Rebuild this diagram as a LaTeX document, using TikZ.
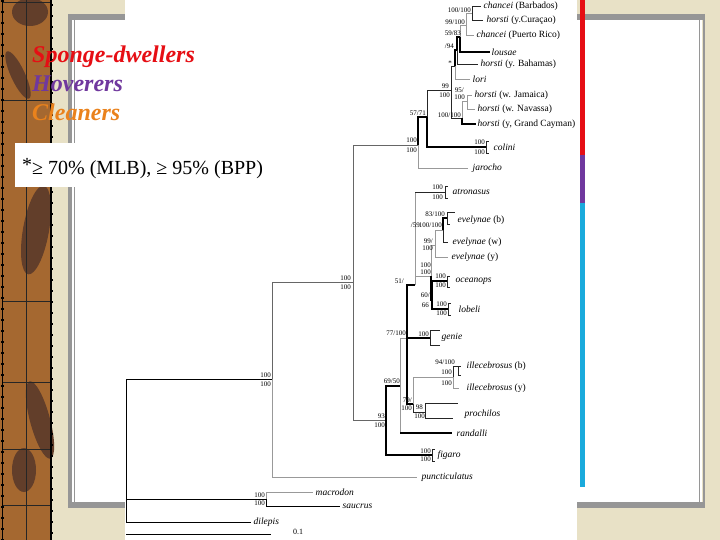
\documentclass[tikz,border=0pt]{standalone}
\usepackage{fontspec}
\setmainfont{Liberation Serif}
\usetikzlibrary{positioning}
\definecolor{bgbeige}{RGB}{232,225,198}
\definecolor{barkbrown}{RGB}{165,104,48}
\definecolor{barkdark}{RGB}{98,62,42}
\definecolor{framegray}{RGB}{150,150,150}
\definecolor{sdred}{RGB}{230,14,20}
\definecolor{hovpurple}{RGB}{112,56,158}
\definecolor{clorange}{RGB}{234,130,28}
\definecolor{clblue}{RGB}{26,170,220}
\tikzset{
  br/.style={line width=0.7pt, black!85},
  grbr/.style={line width=0.7pt, black!40},
  thbr/.style={line width=1.4pt, black},
  taxon/.style={anchor=west, inner sep=0.5pt, font=\fontsize{9.5}{10}\selectfont},
  supp/.style={anchor=east, inner sep=0pt, font=\fontsize{7}{7}\selectfont},
  legendtext/.style={anchor=base west, inner sep=0pt, font=\fontsize{24}{26}\selectfont\bfseries\itshape}
}
\begin{document}
\begin{tikzpicture}[x=1pt,y=-1pt]
\useasboundingbox (0,0) rectangle (720,540);
% slide background
\fill[bgbeige] (0,0) rectangle (720,540);
\fill[barkbrown] (0,0) rectangle (51,540);
\fill[barkdark] (30,12) ellipse (18 and 14);
\fill[barkdark, rotate around={25:(18,75)}] (18,75) ellipse (7 and 26);
\fill[barkdark, rotate around={-10:(36,230)}] (36,230) ellipse (13 and 45);
\fill[barkdark, rotate around={15:(40,420)}] (40,420) ellipse (10 and 40);
\fill[barkdark] (24,470) ellipse (12 and 22);
\draw[black!85, line width=0.6pt] (26,0) -- (26,540);
\foreach \gy in {2,100,301,382,449,505}
  \draw[black!85, line width=0.6pt] (3,\gy) -- (51,\gy);
\draw[black, line width=2pt] (51,0) -- (51,540);
\draw[black, line width=1pt] (2.5,0) -- (2.5,540);
\draw[black, line width=3pt, dash pattern=on 2pt off 9pt] (2,0) -- (2,540);
\draw[black, line width=3pt, dash pattern=on 2pt off 9pt] (51,4) -- (51,540);
% white panel with frame
\fill[white] (72,20) rectangle (702,502);
\fill[framegray] (68,14) rectangle (704,20);
\fill[framegray] (68,14) rectangle (72,508);
\fill[framegray] (68,502) rectangle (704,508);
\draw[framegray, line width=0.8pt] (74.5,20) -- (74.5,502);
\draw[framegray, line width=0.8pt] (699.5,20) -- (699.5,502);
\draw[framegray, line width=1.6pt] (704,14) -- (704,508);
% tree picture
\fill[white] (125,0) rectangle (577,540);
% colour bar
\fill[sdred] (580,0) rectangle (585,155);
\fill[hovpurple] (580,155) rectangle (585,203);
\fill[clblue] (580,203) rectangle (585,487);

% legend
\node[legendtext, text=sdred] (sponge) at (32,63) {Sponge-dwellers};
\node[legendtext, text=hovpurple] (hover) at (32,92) {Hoverers};
\node[legendtext, text=clorange] (clean) at (32,121) {Cleaners};
\node[fill=white, anchor=north west, inner sep=0pt, minimum width=255pt, minimum height=44pt] (notebox) at (15,143) {};
\node[anchor=base west, inner sep=0pt, font=\fontsize{20}{21}\selectfont] (note) at (22,175) {\raisebox{3pt}{*}≥ 70\% (MLB), ≥ 95\% (BPP)};

% internal nodes
\coordinate (root) at (126,450);
\coordinate (n272) at (272,379);
\coordinate (nc) at (353,282);
\coordinate (nsd) at (418,145);
\coordinate (n57) at (427,117);
\coordinate (n99) at (451,90);
\coordinate (n5) at (455,66);
\coordinate (n4) at (457,50);
\coordinate (n3) at (460,37);
\coordinate (n2) at (466,25);
\coordinate (n1) at (472,13);
\coordinate (nj) at (462,118);
\coordinate (nj1) at (467,101);
\coordinate (ncol) at (486,147);
\coordinate (n93) at (386,420);
\coordinate (n69) at (400,386);
\coordinate (n77) at (407,338);
\coordinate (n59) at (415,285);
\coordinate (natr) at (445,192);
\coordinate (n100a) at (431,276);
\coordinate (ne2) at (435,245);
\coordinate (ne1) at (443,230);
\coordinate (neb) at (447,218);
\coordinate (n60) at (432,300);
\coordinate (noce) at (447,281);
\coordinate (nlob) at (448,309);
\coordinate (ngen) at (430,338);
\coordinate (n79) at (413,404);
\coordinate (nill) at (453,377);
\coordinate (nillb) at (458,366);
\coordinate (n98) at (425,412);
\coordinate (nfig) at (432,455);
\coordinate (nmac) at (266,499);

% tips
\coordinate (tbarb) at (481,6);
\coordinate (tcur) at (483,20);
\coordinate (tcpr) at (474,35);
\coordinate (tlou) at (490,52);
\coordinate (tbah) at (478,64);
\coordinate (tlori) at (470,79);
\coordinate (tjam) at (472,95);
\coordinate (tnav) at (475,109);
\coordinate (tcay) at (476,124);
\coordinate (tcol1) at (489,141);
\coordinate (tcol2) at (489,153);
\coordinate (tjar) at (468,168);
\coordinate (tatr1) at (448,186);
\coordinate (tatr2) at (448,198);
\coordinate (tevb1) at (455,212);
\coordinate (tevb2) at (450,224);
\coordinate (tevw) at (448,242);
\coordinate (tevy) at (448,257);
\coordinate (toce1) at (450,276);
\coordinate (toce2) at (450,287);
\coordinate (tlob1) at (451,303);
\coordinate (tlob2) at (451,315);
\coordinate (tgen1) at (440,330);
\coordinate (tgen2) at (440,345);
\coordinate (tillb1) at (461,366);
\coordinate (tillb2) at (461,375);
\coordinate (tilly) at (459,388);
\coordinate (tpro1) at (458,403);
\coordinate (tpro2) at (453,418);
\coordinate (tran) at (452,433);
\coordinate (tfig1) at (435,449);
\coordinate (tfig2) at (435,461);
\coordinate (tpun) at (417,477);
\coordinate (tmac) at (313,492);
\coordinate (tsau) at (340,506);
\coordinate (tdil) at (251,522);

% branches
\draw[br, black] (root) |- (n272);
\draw[br, black] (root) |- (nmac);
\draw[br, black] (root) |- (tdil);
\draw[br, black!60] (n272) |- (nc);
\draw[grbr] (n272) |- (tpun);
\draw[br, black!60] (nc) |- (nsd);
\draw[br, black!60] (nc) |- (n93);
\draw[thbr] (nsd) |- (n57);
\draw[grbr] (nsd) |- (tjar);
\draw[br] (n57) |- (n99);
\draw[thbr] (n57) |- (ncol);
\draw[br] (ncol) |- (tcol1);
\draw[br] (ncol) |- (tcol2);
\draw[br] (n99) |- (n5);
\draw[br] (n99) |- (nj);
\draw[thbr] (n5) |- (n4);
\draw[grbr] (n5) |- (tlori);
\draw[thbr] (n4) |- (n3);
\draw[br] (n4) |- (tbah);
\draw[grbr] (n3) |- (n2);
\draw[thbr] (n3) |- (tlou);
\draw[grbr] (n2) |- (n1);
\draw[grbr] (n2) |- (tcpr);
\draw[br] (n1) |- (tbarb);
\draw[br] (n1) |- (tcur);
\draw[grbr] (nj) |- (nj1);
\draw[thbr] (nj) |- (tcay);
\draw[grbr] (nj1) |- (tjam);
\draw[grbr] (nj1) |- (tnav);
\draw[thbr] (n93) |- (n69);
\draw[thbr] (n93) |- (nfig);
\draw[br] (nfig) |- (tfig1);
\draw[br] (nfig) |- (tfig2);
\draw[grbr] (n69) |- (n77);
\draw[grbr] (n69) |- (tran);
\draw[thbr] (n69 |- tran) -- (tran);
\draw[thbr] (n77) |- (n59);
\draw[thbr] (n77) |- (n79);
\draw[thbr] (n77) -- (ngen);
\draw[br] (ngen) |- (tgen1);
\draw[br] (ngen) |- (tgen2);
\draw[grbr] (n59) |- (natr);
\draw[br] (n59 |- natr) -- (natr);
\draw[grbr] (n59) |- (n100a);
\draw[br] (natr) |- (tatr1);
\draw[br] (natr) |- (tatr2);
\draw[grbr] (n100a) |- (ne2);
\draw[thbr] (n100a) |- (n60);
\draw[grbr] (ne2) |- (ne1);
\draw[grbr] (ne2) |- (tevy);
\draw[thbr] (ne1) |- (neb);
\draw[br] (ne1) |- (tevw);
\draw[br] (neb) |- (tevb1);
\draw[br] (neb) |- (tevb2);
\draw[thbr] (n60) |- (noce);
\draw[thbr] (n60) |- (nlob);
\draw[br] (noce) |- (toce1);
\draw[br] (noce) |- (toce2);
\draw[br] (nlob) |- (tlob1);
\draw[br] (nlob) |- (tlob2);
\draw[grbr] (n79) |- (nill);
\draw[br] (n79) |- (n98);
\draw[br] (nill) |- (nillb);
\draw[grbr] (nill) |- (tilly);
\draw[br] (nillb) |- (tillb1);
\draw[br] (nillb) |- (tillb2);
\draw[br] (n98) |- (tpro1);
\draw[br] (n98) |- (tpro2);
\draw[grbr] (nmac) |- (tmac);
\draw[br, black] (nmac) |- (tsau);

% taxa
\node[taxon, right=2pt of tbarb] (lbarb) {\textit{chancei} (Barbados)};
\node[taxon, right=3pt of tcur] (lcur) {\textit{horsti} (y.Curaçao)};
\node[taxon, right=2pt of tcpr] (lcpr) {\textit{chancei} (Puerto Rico)};
\node[taxon, right=1pt of tlou] (llou) {\textit{lousae}};
\node[taxon, right=2pt of tbah] (lbah) {\textit{horsti} (y. Bahamas)};
\node[taxon, right=2pt of tlori] (llori) {\textit{lori}};
\node[taxon, right=2pt of tjam] (ljam) {\textit{horsti} (w. Jamaica)};
\node[taxon, right=2pt of tnav] (lnav) {\textit{horsti} (w. Navassa)};
\node[taxon, right=1pt of tcay] (lcay) {\textit{horsti} (y, Grand Cayman)};
\node[taxon, right=7pt of ncol] (lcol) {\textit{colini}};
\node[taxon, right=4pt of tjar] (ljar) {\textit{jarocho}};
\node[taxon, right=7pt of natr] (latr) {\textit{atronasus}};
\node[taxon, right=10pt of neb, yshift=-2pt] (levb) {\textit{evelynae} (b)};
\node[taxon, right=4pt of tevw] (levw) {\textit{evelynae} (w)};
\node[taxon, right=3pt of tevy] (levy) {\textit{evelynae} (y)};
\node[taxon, right=8pt of noce] (loce) {\textit{oceanops}};
\node[taxon, right=10pt of nlob] (llob) {\textit{lobeli}};
\node[taxon, right=1pt of tgen1, yshift=-7pt] (lgen) {\textit{genie}};
\node[taxon, right=5pt of tillb1] (lillb) {\textit{illecebrosus} (b)};
\node[taxon, right=7pt of tilly] (lilly) {\textit{illecebrosus} (y)};
\node[taxon, right=39pt of n98, yshift=-2pt] (lpro) {\textit{prochilos}};
\node[taxon, right=4pt of tran] (lran) {\textit{randalli}};
\node[taxon, right=5pt of nfig] (lfig) {\textit{figaro}};
\node[taxon, right=4pt of tpun] (lpun) {\textit{puncticulatus}};
\node[taxon, right=2pt of tmac] (lmac) {\textit{macrodon}};
\node[taxon, right=2pt of tsau] (lsau) {\textit{saucrus}};
\node[taxon, right=2pt of tdil] (ldil) {\textit{dilepis}};

% support values
\node[supp] (s1) at (471,10) {100/100};
\node[supp] (s2) at (465,22) {99/100};
\node[supp] (s3) at (461,33) {59/83};
\node[supp] (s4) at (454,46) {/94};
\node[supp] (s5) at (452,63) {*};
\node[supp] (s6a) at (449,86) {99};
\node[supp] (s6b) at (450,95) {100};
\node[supp] (s7a) at (464,90) {95/};
\node[supp] (s7b) at (465,97) {100};
\node[supp] (s8) at (461,115) {100/100};
\node[supp] (s9) at (426,113) {57/71};
\node[supp] (s10a) at (417,140) {100};
\node[supp] (s10b) at (417,150) {100};
\node[supp] (s11a) at (485,142) {100};
\node[supp] (s11b) at (485,152) {100};
\node[supp] (s12a) at (351,278) {100};
\node[supp] (s12b) at (351,287) {100};
\node[supp] (s13a) at (271,375) {100};
\node[supp] (s13b) at (271,384) {100};
\node[supp] (s14a) at (443,187) {100};
\node[supp] (s14b) at (443,197) {100};
\node[supp] (s15) at (445,214) {83/100};
\node[supp] (s16) at (420,225) {/59};
\node[supp] (s17) at (442,225) {100/100};
\node[supp] (s18a) at (433,241) {99/};
\node[supp] (s18b) at (433,248) {100};
\node[supp] (s19a) at (431,265) {100};
\node[supp] (s19b) at (431,272) {100};
\node[supp] (s20) at (404,281) {51/};
\node[supp] (s21a) at (446,276) {100};
\node[supp] (s21b) at (446,285) {100};
\node[supp] (s22a) at (430,295) {60/};
\node[supp] (s22b) at (429,305) {66};
\node[supp] (s23a) at (447,304) {100};
\node[supp] (s23b) at (447,313) {100};
\node[supp] (s24) at (406,333) {77/100};
\node[supp] (s25) at (429,334) {100};
\node[supp] (s26) at (455,362) {94/100};
\node[supp] (s27a) at (452,372) {100};
\node[supp] (s27b) at (452,383) {100};
\node[supp] (s28) at (400,381) {69/50};
\node[supp] (s29a) at (412,400) {79/};
\node[supp] (s29b) at (412,408) {100};
\node[supp] (s30a) at (423,407) {98};
\node[supp] (s30b) at (425,416) {100};
\node[supp] (s31a) at (385,416) {93};
\node[supp] (s31b) at (385,425) {100};
\node[supp] (s32a) at (431,451) {100};
\node[supp] (s32b) at (431,459) {100};
\node[supp] (s33a) at (265,495) {100};
\node[supp] (s33b) at (265,503) {100};

% scale bar
\coordinate (sb0) at (126,534);
\coordinate (sb1) at (271,534);
\draw[br, black] (sb0) -- (sb1);
\node[font=\fontsize{8}{8}\selectfont, inner sep=0pt] (sblab) at (298,532) {0.1};
\end{tikzpicture}
\end{document}
